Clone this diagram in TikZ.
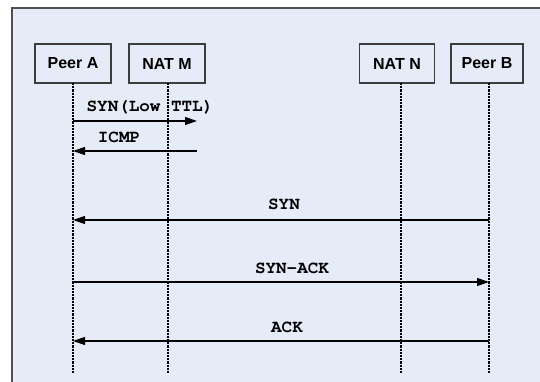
\documentclass[tikz,border=0pt]{standalone}
\usepackage{fontspec}
\setmainfont{Liberation Sans}
\setmonofont{TeX Gyre Cursor}
\usepackage{xcolor}
\usetikzlibrary{arrows.meta}

\definecolor{panelbg}{HTML}{E6ECF7}
\definecolor{edgegray}{HTML}{3C3C3C}

\tikzset{
  party/.style={draw=edgegray, fill=panelbg, line width=1.1pt,
    minimum height=29pt, inner sep=0pt, font=\fontsize{12}{13}\selectfont\bfseries},
  life/.style={line width=0.8pt, dash pattern=on 1.6pt off 0.8pt},
  msg/.style={line width=0.9pt, -{Triangle[length=9pt,width=6pt]}},
  msglabel/.style={font=\fontsize{13.2}{14}\ttfamily\bfseries, inner sep=0pt}
}

\begin{document}
\begin{tikzpicture}[x=0.75pt, y=-0.75pt]

\useasboundingbox (0,0) rectangle (540,382);
\fill[white] (0,0) rectangle (540,382);
\draw[fill=panelbg, draw=edgegray!90, line width=1.1pt] (12,8) rectangle (541,383);

% the four parties
\node[party, minimum width=57pt]  (peerA) at (73,63.5)  {Peer A};
\node[party, minimum width=57pt]  (natM)  at (167,63.5) {NAT M};
\node[party, minimum width=56pt]  (natN)  at (397,63.5) {NAT N};
\node[party, minimum width=54pt]  (peerB) at (487,63.5) {Peer B};

% lifelines
\coordinate (aTop) at (73,83);   \coordinate (aBot) at (73,373);
\coordinate (mTop) at (168,83);  \coordinate (mBot) at (168,373);
\coordinate (nTop) at (401,83);  \coordinate (nBot) at (401,373);
\coordinate (bTop) at (489,83);  \coordinate (bBot) at (489,373);

\draw[life] (aTop)--(aBot);
\draw[life] (mTop)--(mBot);
\draw[life] (nTop)--(nBot);
\draw[life] (bTop)--(bBot);

% messages
\coordinate (ttlEnd) at (197,121);
\coordinate (icmpStart) at (197,151);

\draw[msg] (aTop |- ttlEnd)--(ttlEnd);
\node[msglabel] (ttl) at (150,107) {SYN(Low TTL)};

\draw[msg] (icmpStart)--(aTop |- icmpStart);
\node[msglabel] (icmp) at (119,137) {ICMP};

\draw[msg] (bTop |- 0,220)--(aTop |- 0,220);
\node[msglabel] (syn) at (284,204.5) {SYN};

\draw[msg] (aTop |- 0,282)--(bTop |- 0,282);
\node[msglabel] (synack) at (292,268.5) {SYN-ACK};

\draw[msg] (bTop |- 0,341)--(aTop |- 0,341);
\node[msglabel] (ack) at (287,327) {ACK};

\end{tikzpicture}
\end{document}
